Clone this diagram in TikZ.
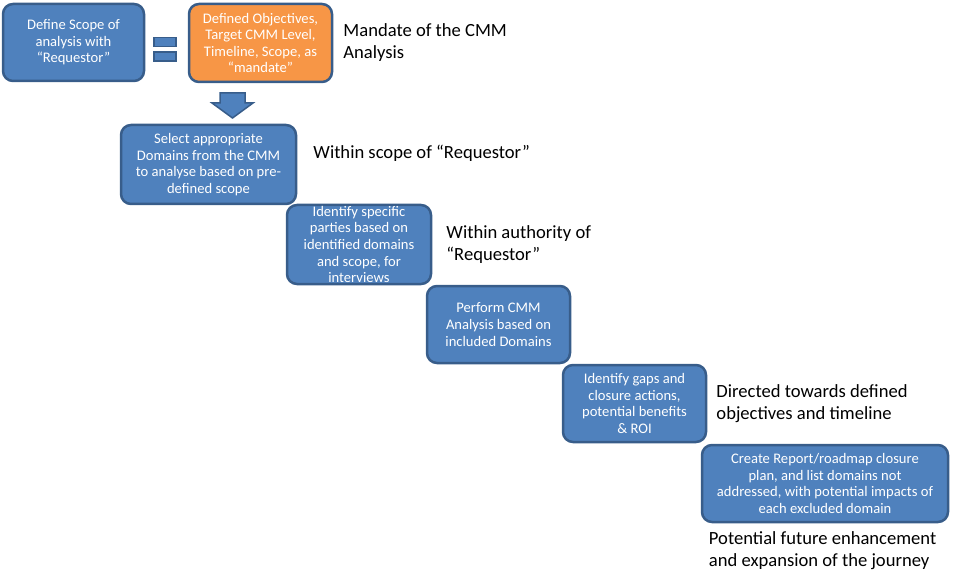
\documentclass[tikz,border=0pt]{standalone}
\usepackage{fontspec}
\setmainfont{Carlito}
\usetikzlibrary{positioning}
\definecolor{stepblue}{HTML}{4F81BD}
\definecolor{stepedge}{HTML}{385D8A}
\definecolor{mandorange}{HTML}{F79646}

\begin{document}
\begin{tikzpicture}[x=1pt, y=-1pt,
    box/.style={draw=stepedge, line width=2.5pt, rounded corners=10pt,
                fill=stepblue, text=white, align=center, inner sep=0pt,
                font=\fontsize{14.6}{16.6}\selectfont},
    note/.style={inner sep=0pt, align=left,
                 font=\fontsize{18.6}{22}\selectfont},
    bar/.style={draw=stepedge, line width=1.5pt, fill=stepblue,
                minimum width=22pt, minimum height=9pt, inner sep=0pt}
  ]
  \useasboundingbox (0,0) rectangle (955,585);
  % mandate row
  \node[box, minimum width=141pt, minimum height=77pt] (scope) at (73.5,42.5)
    {Define Scope of\\analysis with\\“Requestor”};
  \node[bar] (eqtop) at (165,42) {};
  \node[bar] (eqbot) at (165,56.5) {};
  \node[box, fill=mandorange, minimum width=143pt, minimum height=78pt] (mandate) at (260.5,43)
    {Defined Objectives,\\Target CMM Level,\\Timeline, Scope, as\\“mandate”};
  \node[note, right=10pt of mandate] (mandnote) {Mandate of the CMM\\Analysis};
  % block arrow down to the steps
  \draw[stepedge, line width=1.5pt, fill=stepblue, line join=miter]
    (220,93) -- (245,93) -- (245,103) -- (253,103) -- (232.5,118)
    -- (212,103) -- (220,103) -- cycle;
  % staircase of steps
  \node[box, minimum width=175pt, minimum height=79pt] (select) at (208.5,164.5)
    {Select appropriate\\Domains from the CMM\\to analyse based on pre-\\defined scope};
  \node[box, minimum width=144pt, minimum height=79pt] (parties) at (359,244.5)
    {Identify specific\\parties based on\\identified domains\\and scope, for\\interviews};
  \node[box, minimum width=143pt, minimum height=77pt] (perform) at (498.5,324.5)
    {Perform CMM\\Analysis based on\\included Domains};
  \node[box, minimum width=143pt, minimum height=77pt] (gaps) at (634.5,403.5)
    {Identify gaps and\\closure actions,\\potential benefits\\\& ROI};
  \node[box, minimum width=246pt, minimum height=77pt] (report) at (825,483.5)
    {Create Report/roadmap closure\\plan, and list domains not\\addressed, with potential impacts of\\each excluded domain};
  % notes beside the steps
  \node[note, right=16pt of select, yshift=11.5pt] (scopenote) {Within scope of “Requestor”};
  \node[note, right=14pt of parties] (authnote) {Within authority of\\“Requestor”};
  \node[note, right=9pt of gaps] (objnote) {Directed towards defined\\objectives and timeline};
  \node[note, below=8pt of report.south west, anchor=north west, xshift=8pt] (futnote)
    {Potential future enhancement\\and expansion of the journey};
\end{tikzpicture}
\end{document}
